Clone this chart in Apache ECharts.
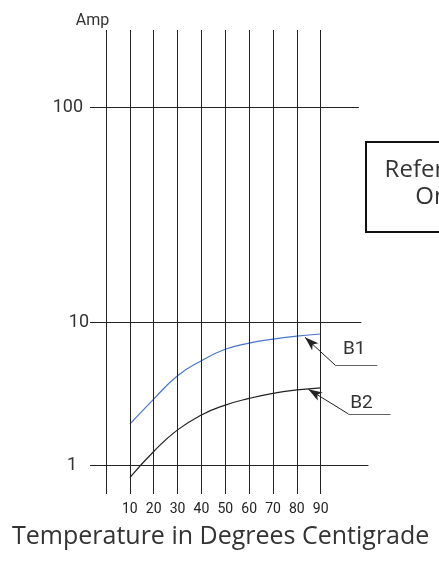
<!DOCTYPE html>
<html>
<head>
<meta charset="utf-8">
<script src="https://cdn.jsdelivr.net/npm/echarts@6/dist/echarts.min.js"></script>
<style>
html, body { margin: 0; padding: 0; background: #fff; }
#main { width: 439px; height: 561px; }
</style>
</head>
<body>
<div id="main"></div>
<script>
// temperature in degrees C
var temps = [10, 20, 30, 40, 50, 60, 70, 80, 90];
var gridTemps = [0, 10, 20, 30, 40, 50, 60, 70, 80, 90];
var tempLabels = [10, 20, 30, 40, 50, 60, 70, 80, 90];
// current in amps
var ampB1 = [1.94, 2.91, 4.24, 5.40, 6.49, 7.17, 7.65, 8.04, 8.31];
var ampB2 = [0.82, 1.25, 1.77, 2.25, 2.64, 2.94, 3.19, 3.37, 3.49];
var ampLevelsTop = [100];
var ampLevelsBottom = [10, 1];

var chart = echarts.init(document.getElementById('main'));

var labelFont = 'Roboto, "DejaVu Sans", sans-serif';
var narrowFont = '"Liberation Sans Narrow", Roboto, sans-serif';
var xStart = -6.7;
// the level lines stop at slightly different places in the drawing
var levelStyle = {
  100: { gap: 7, endX: 106 },
  10: { gap: 1, endX: 107 },
  1: { gap: 13, endX: 110 }
};

function levelLine(v) {
  return [
    {
      coord: [xStart, v],
      label: {
        show: true,
        position: 'start',
        formatter: String(v),
        distance: levelStyle[v].gap,
        color: '#333',
        fontSize: 18,
        fontFamily: labelFont
      }
    },
    { coord: [levelStyle[v].endX, v] }
  ];
}

function tempLine(t) {
  return { xAxis: t };
}

// leader line with arrow: tip on the curve, elbow, then the underline with the name
function callout(name, tip, elbow, endX, labelGap, labelPad) {
  return [
    [
      { coord: tip, symbol: 'arrow', symbolSize: [7, 14] },
      { coord: elbow, symbol: 'none' }
    ],
    [
      { coord: elbow, symbol: 'none' },
      {
        coord: [endX, elbow[1]],
        symbol: 'none',
        lineStyle: { color: '#666' },
        label: {
          show: true,
          position: 'insideMiddleTop',
          formatter: name,
          distance: labelGap,
          padding: labelPad,
          color: '#333',
          fontSize: 19,
          fontFamily: narrowFont
        }
      }
    ]
  ];
}

var gridLineStyle = { color: '#222', width: 1, type: 'solid' };

var xAxisBase = {
  type: 'value',
  min: xStart,
  max: 120,
  axisLine: { show: false },
  axisTick: { show: false },
  splitLine: { show: false }
};

chart.setOption({
  animation: false,
  backgroundColor: '#fff',
  title: {
    text: 'Temperature in Degrees Centigrade',
    left: 7,
    top: 519,
    textStyle: {
      fontFamily: '"Open Sans", sans-serif',
      fontSize: 25,
      fontWeight: 'normal',
      color: '#333'
    }
  },
  grid: [
    { left: 90, right: 46.7, top: 30, height: 292.5 },
    { left: 90, right: 46.7, top: 322.5, height: 171.5 }
  ],
  xAxis: [
    Object.assign({ gridIndex: 0, axisLabel: { show: false } }, xAxisBase),
    Object.assign({
      gridIndex: 1,
      axisLabel: {
        show: true,
        customValues: tempLabels,
        margin: 8,
        color: '#222',
        fontSize: 14,
        fontFamily: labelFont
      }
    }, xAxisBase)
  ],
  yAxis: [
    {
      type: 'log',
      logBase: 10,
      gridIndex: 0,
      min: 10,
      max: 229.8,
      axisLine: { show: false },
      axisTick: { show: false },
      axisLabel: { show: false },
      splitLine: { show: false }
    },
    {
      type: 'log',
      logBase: 10,
      gridIndex: 1,
      min: 0.6295,
      max: 10,
      axisLine: { show: false },
      axisTick: { show: false },
      axisLabel: { show: false },
      splitLine: { show: false }
    }
  ],
  graphic: [
    {
      type: 'text',
      style: {
        x: 92.5,
        y: 21,
        text: 'Amp',
        fontFamily: labelFont,
        fontSize: 16,
        fill: '#333',
        align: 'center',
        verticalAlign: 'middle',
        textAlign: 'center',
        textVerticalAlign: 'middle'
      }
    },
    {
      type: 'rect',
      shape: { x: 366, y: 142, width: 150, height: 90 },
      style: { fill: '#fff', stroke: '#111', lineWidth: 2 }
    },
    {
      type: 'text',
      style: {
        x: 441,
        y: 184,
        text: 'Reference\nOnly',
        fontFamily: '"Open Sans", sans-serif',
        fontSize: 24,
        lineHeight: 27,
        fill: '#333',
        align: 'center',
        verticalAlign: 'middle',
        textAlign: 'center',
        textVerticalAlign: 'middle'
      }
    }
  ],
  series: [
    {
      name: 'upper',
      type: 'line',
      xAxisIndex: 0,
      yAxisIndex: 0,
      data: [],
      silent: true,
      markLine: {
        silent: true,
        symbol: ['none', 'none'],
        label: { show: false },
        lineStyle: gridLineStyle,
        data: gridTemps.map(tempLine).concat(ampLevelsTop.map(levelLine))
      }
    },
    {
      name: 'B1',
      type: 'line',
      xAxisIndex: 1,
      yAxisIndex: 1,
      data: temps.map(function (t, i) { return [t, ampB1[i]]; }),
      smooth: 0.5,
      showSymbol: false,
      clip: false,
      silent: true,
      lineStyle: { color: '#4a76c6', width: 1.2 },
      markLine: {
        silent: true,
        symbol: ['none', 'none'],
        label: { show: false },
        lineStyle: gridLineStyle,
        data: gridTemps.map(tempLine).concat(ampLevelsBottom.map(levelLine))
      }
    },
    {
      name: 'B2',
      type: 'line',
      xAxisIndex: 1,
      yAxisIndex: 1,
      data: temps.map(function (t, i) { return [t, ampB2[i]]; }),
      smooth: 0.5,
      showSymbol: false,
      clip: false,
      silent: true,
      lineStyle: { color: '#222', width: 1.2 },
      markLine: {
        silent: true,
        symbol: ['none', 'none'],
        label: { show: false },
        lineStyle: { color: '#222', width: 1, type: 'solid' },
        data: callout('B1', [83.4, 7.88], [96.0, 5.04], 113.7, 6, [0, 4, 0, 0])
          .concat(callout('B2', [84.8, 3.41], [101.6, 2.29], 119.3, 1, [0, 16, 0, 0]))
      }
    }
  ]
});
</script>
</body>
</html>
